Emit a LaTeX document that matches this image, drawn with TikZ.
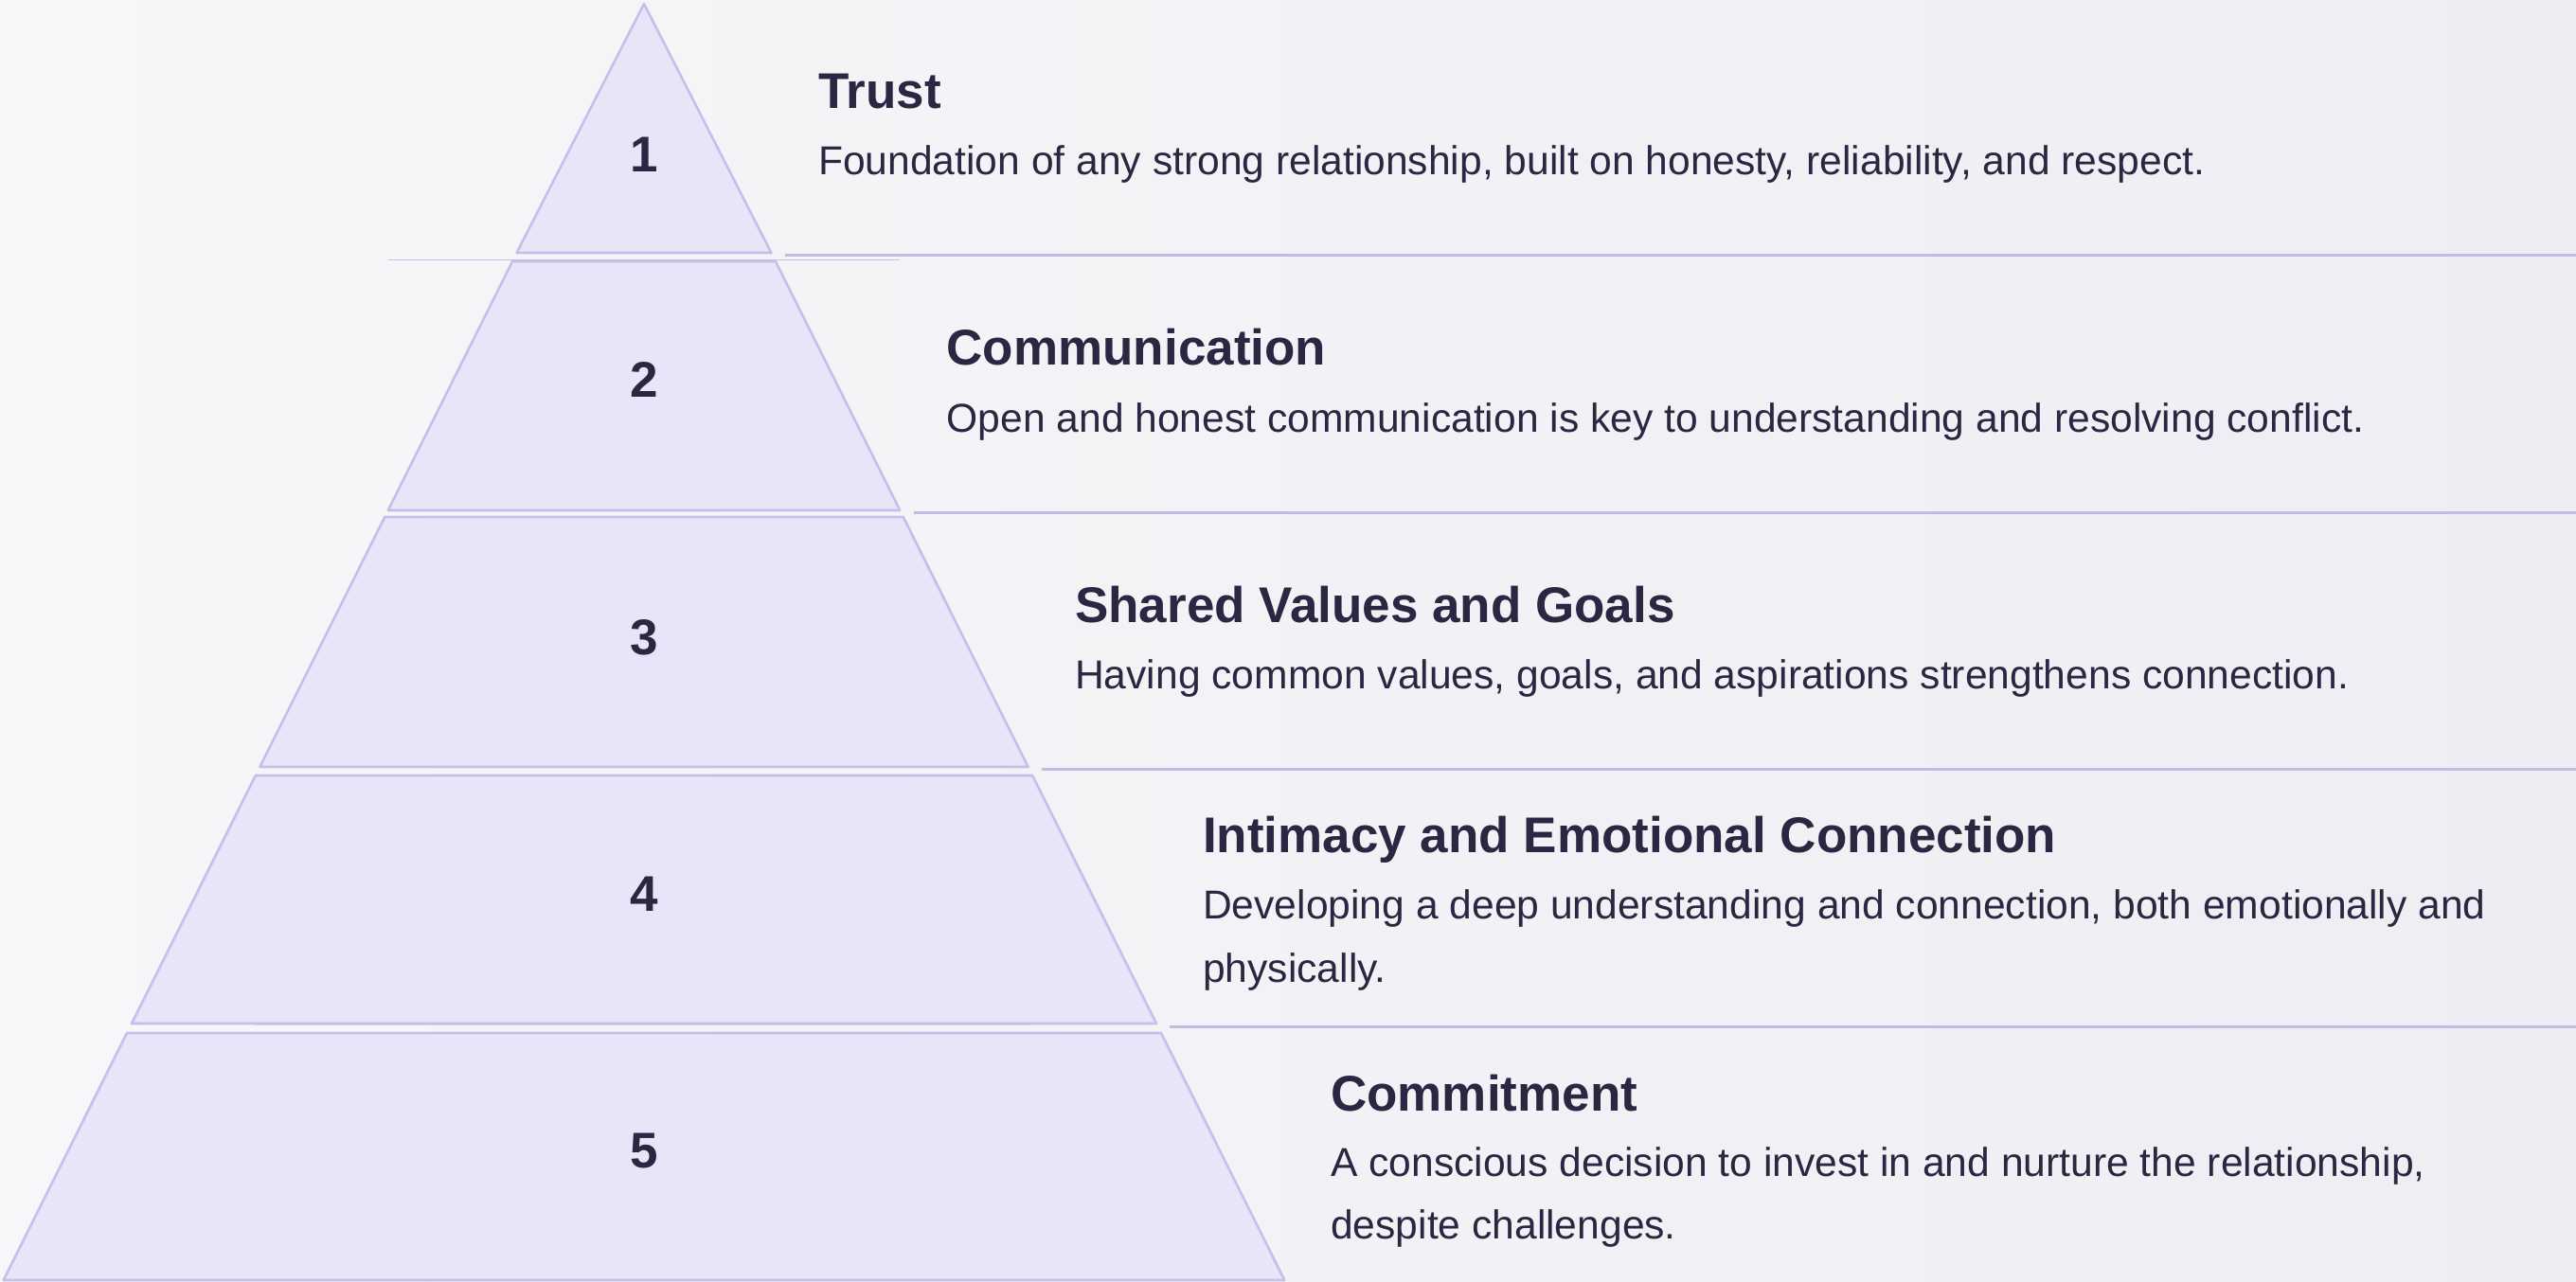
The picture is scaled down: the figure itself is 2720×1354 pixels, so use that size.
\documentclass[tikz,border=0pt]{standalone}
\usepackage{fontspec}
\setmainfont{Liberation Sans}
\definecolor{pagel}{HTML}{F7F7F9}
\definecolor{pager}{HTML}{EEEDF3}
\definecolor{tierbg}{HTML}{E7E5F8}
\definecolor{tieredge}{HTML}{C4C0EA}
\definecolor{ruleline}{HTML}{C0BCE6}
\definecolor{ink}{HTML}{2A2742}
\begin{document}
\begin{tikzpicture}[x=1pt,y=-1pt,
  tierbox/.style={fill=tierbg, draw=tieredge, line width=2.6pt, line join=round},
  rule/.style={draw=ruleline, line width=3pt},
  ghost/.style={draw=tieredge, line width=1.8pt},
  num/.style={font=\fontsize{53}{60}\selectfont\bfseries, text=ink, inner sep=0pt},
  heading/.style={font=\fontsize{53}{60}\selectfont\bfseries, text=ink, inner sep=0pt, anchor=base west},
  body/.style={font=\fontsize{42.6}{50}\selectfont, text=ink, inner sep=0pt, anchor=base west}]

% page background
\useasboundingbox (0,0) rectangle (2720,1354);
\shade[left color=pagel, right color=pager] (0,0) rectangle (2720,1354);

% pyramid tiers, apex to base
\filldraw[tierbox] (680,4) -- (814.4,267) -- (545.6,267) -- cycle;
\filldraw[tierbox] (541.1,276) -- (818.9,276) -- (950.2,539) -- (409.8,539) -- cycle;
\filldraw[tierbox] (406.3,546) -- (953.7,546) -- (1085.6,810) -- (274.4,810) -- cycle;
\filldraw[tierbox] (269.9,819) -- (1090.1,819) -- (1221,1081) -- (139,1081) -- cycle;
\filldraw[tierbox] (134,1091) -- (1226,1091) -- (1356.3,1352) -- (3.7,1352) -- cycle;

% thin edge lines along tier boundaries
\draw[ghost] (409.8,274.5) -- (950.2,274.5);
\draw[ghost, draw opacity=0.6] (269.9,1082.5) -- (1090.1,1082.5);

% dividers between the text rows
\draw[rule] (829,269) -- (2720,269);
\draw[rule] (965,541) -- (2720,541);
\draw[rule] (1100,812) -- (2720,812);
\draw[rule] (1235,1084) -- (2720,1084);

% tier numbers
\node[num] (n1) at (680,163) {1};
\node[num] (n2) at (680,401) {2};
\node[num] (n3) at (680,673) {3};
\node[num] (n4) at (680,944) {4};
\node[num] (n5) at (680,1216) {5};

% headings and descriptions
\node[heading] (t1) at (864,114.5) {Trust};
\node[body] (d1) at (864,184) {Foundation of any strong relationship, built on honesty, reliability, and respect.};

\node[heading] (t2) at (999.5,385) {Communication};
\node[body] (d2) at (999.5,456) {Open and honest communication is key to understanding and resolving conflict.};

\node[heading] (t3) at (1135,657) {Shared Values and Goals};
\node[body] (d3) at (1135,727) {Having common values, goals, and aspirations strengthens connection.};

\node[heading] (t4) at (1270,900) {Intimacy and Emotional Connection};
\node[body] (d4) at (1270,970) {Developing a deep understanding and connection, both emotionally and};
\node[body] (d4b) at (1270,1037) {physically.};

\node[heading] (t5) at (1405,1173) {Commitment};
\node[body] (d5) at (1405,1242) {A conscious decision to invest in and nurture the relationship,};
\node[body] (d5b) at (1405,1308) {despite challenges.};
\end{tikzpicture}
\end{document}
